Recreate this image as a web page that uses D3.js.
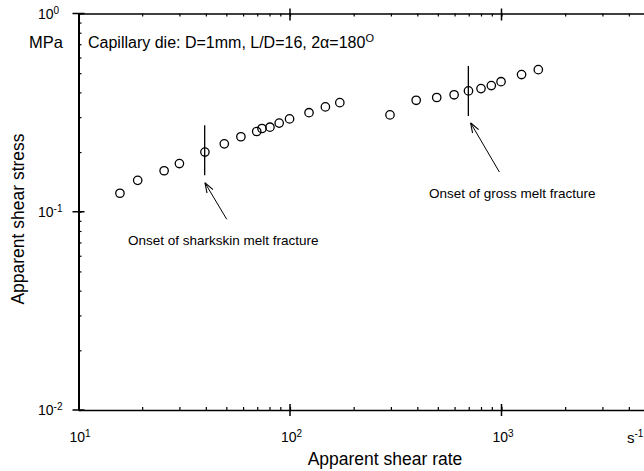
<!DOCTYPE html>
<html lang="en"><head>
<meta charset="utf-8">
<title>Apparent shear stress vs apparent shear rate</title>
<script src="https://cdn.jsdelivr.net/npm/d3@7"></script>
<style>
body { margin: 0; background: #fff; }
text { font-family: "Liberation Sans", Arial, sans-serif; fill: #000; }
</style>
</head>
<body>
<script>
// data
var shearRate = [15.7, 19.05, 25.4, 30.0, 39.6, 48.9, 58.6, 69.6, 73.7, 80.4, 88.9, 99.5, 123, 147, 172,
                 297, 395, 494, 597, 698, 800, 895, 995, 1244, 1493];
var shearStress = [0.124, 0.144, 0.161, 0.175, 0.200, 0.220, 0.239, 0.254, 0.263, 0.267, 0.280, 0.294, 0.316, 0.338, 0.355,
                   0.308, 0.365, 0.377, 0.389, 0.407, 0.418, 0.433, 0.453, 0.492, 0.521];
var onsetNames = ["Onset of sharkskin melt fracture", "Onset of gross melt fracture"];
var onsetRate = [39.5, 697];
var onsetLow = [0.153, 0.304];
var onsetHigh = [0.273, 0.543];
var arrowTail = [[50.2, 0.0917], [977, 0.1587]];
var arrowHead = [[39.6, 0.140], [714, 0.281]];
var xMajor = [10, 100, 1000];
var xExp = ["1", "2", "3"];
var yMajor = [1, 0.1, 0.01];
var yExp = ["0", "-1", "-2"];

var width = 644, height = 471;
var pad = {left: 78.5, top: 13.5, bottom: 410};

var svg = d3.select("body").append("svg").attr("width", width).attr("height", height);

var x = d3.scaleLog().domain([10, 5000]).range([pad.left, pad.left + Math.log10(500) * 211.5]);
var y = d3.scaleLog().domain([0.01, 1]).range([pad.bottom, pad.top]);

// bottom axis, minor ticks pointing in
var gB = svg.append("g").attr("transform", "translate(0," + pad.bottom + ")")
    .call(d3.axisTop(x).tickSizeInner(3).tickSizeOuter(0).tickFormat(""));
gB.select(".domain").attr("stroke-width", 1.6);
// top axis
var gT = svg.append("g").attr("transform", "translate(0," + pad.top + ")")
    .call(d3.axisBottom(x).tickSizeInner(3).tickSizeOuter(0).tickFormat(""));
gT.select(".domain").attr("stroke-width", 1.4);
// left axis
var gL = svg.append("g").attr("transform", "translate(" + pad.left + ",0)")
    .call(d3.axisRight(y).tickSizeInner(3).tickSizeOuter(0).tickFormat(""));
gL.select(".domain").attr("stroke-width", 2);
svg.selectAll(".tick line").attr("stroke-width", 1.2);

// major ticks crossing the axes
xMajor.forEach(function(v) {
    if (v > 10) {
        svg.append("line").attr("x1", x(v)).attr("x2", x(v)).attr("y1", pad.bottom - 6).attr("y2", pad.bottom + 6)
            .attr("stroke", "#000").attr("stroke-width", 1.5);
        svg.append("line").attr("x1", x(v)).attr("x2", x(v)).attr("y1", pad.top - 5).attr("y2", pad.top + 7)
            .attr("stroke", "#000").attr("stroke-width", 1.5);
    }
});
yMajor.forEach(function(v) {
    svg.append("line").attr("x1", pad.left - 6).attr("x2", pad.left + 6).attr("y1", y(v)).attr("y2", y(v))
        .attr("stroke", "#000").attr("stroke-width", 1.5);
});

// tick labels with superscripts
xMajor.forEach(function(v, i) {
    var t = svg.append("text").attr("x", x(v) - 9).attr("y", 442).attr("font-size", 14);
    t.append("tspan").text("10");
    t.append("tspan").attr("dy", -5).attr("font-size", 10).text(xExp[i]);
});
yMajor.forEach(function(v, i) {
    var t = svg.append("text").attr("x", 38).attr("y", y(v) + 5).attr("font-size", 14);
    t.append("tspan").text("10");
    t.append("tspan").attr("dy", -5).attr("font-size", 10).text(yExp[i]);
});
var su = svg.append("text").attr("x", 627).attr("y", 443).attr("font-size", 15);
su.append("tspan").text("s");
su.append("tspan").attr("dy", -6).attr("font-size", 10).text("-1");

svg.append("text").attr("x", 29).attr("y", 48).attr("font-size", 16.5).text("MPa");

// axis titles
svg.append("text").attr("x", 385).attr("y", 465).attr("text-anchor", "middle").attr("font-size", 17.5)
    .text("Apparent shear rate");
svg.append("text").attr("transform", "translate(24,219) rotate(-90)").attr("text-anchor", "middle")
    .attr("font-size", 17.5).text("Apparent shear stress");

// die description
var ti = svg.append("text").attr("x", 88).attr("y", 48).attr("font-size", 16);
ti.append("tspan").text("Capillary die: D=1mm, L/D=16, 2\u03b1=180");
ti.append("tspan").attr("dy", -6).attr("font-size", 11).text("O");

// data points
svg.selectAll("circle.pt").data(shearRate).enter().append("circle").attr("class", "pt")
    .attr("cx", function(d) { return x(d); })
    .attr("cy", function(d, i) { return y(shearStress[i]); })
    .attr("r", 4.2).attr("fill", "none").attr("stroke", "#000").attr("stroke-width", 1.3);

// onset markers
svg.append("defs").append("marker").attr("id", "ah").attr("viewBox", "0 -5 10 10")
    .attr("refX", 10).attr("refY", 0).attr("markerWidth", 10).attr("markerHeight", 10)
    .attr("markerUnits", "userSpaceOnUse").attr("orient", "auto")
    .append("path").attr("d", "M0,-3.5L10,0L0,3.5").attr("fill", "none").attr("stroke", "#000").attr("stroke-width", 1.1);

onsetRate.forEach(function(r, i) {
    svg.append("line").attr("x1", x(r)).attr("x2", x(r)).attr("y1", y(onsetLow[i])).attr("y2", y(onsetHigh[i]))
        .attr("stroke", "#000").attr("stroke-width", 1.3);
    svg.append("line").attr("x1", x(arrowTail[i][0])).attr("y1", y(arrowTail[i][1]))
        .attr("x2", x(arrowHead[i][0])).attr("y2", y(arrowHead[i][1]))
        .attr("stroke", "#000").attr("stroke-width", 1).attr("marker-end", "url(#ah)");
});
svg.append("text").attr("x", 128).attr("y", 245).attr("font-size", 13.5).text(onsetNames[0]);
svg.append("text").attr("x", 429).attr("y", 198).attr("font-size", 13.5).text(onsetNames[1]);
</script>
</body>
</html>
